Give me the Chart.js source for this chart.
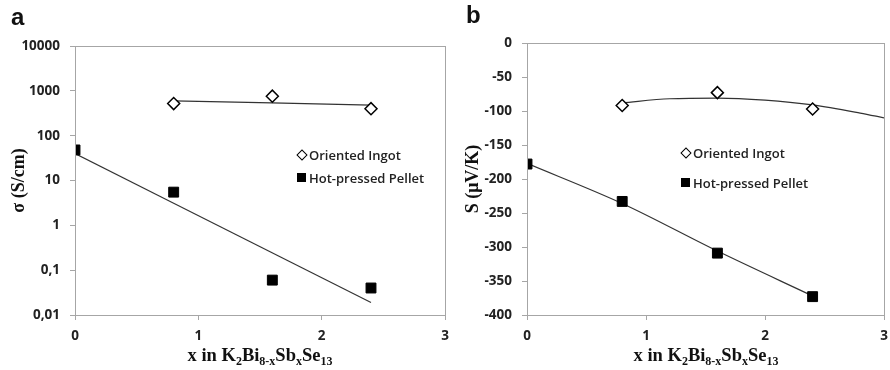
<!DOCTYPE html>
<html>
<head>
<meta charset="utf-8">
<script src="https://cdn.jsdelivr.net/npm/chart.js@4.4.1/dist/chart.umd.min.js"></script>
<style>
  body { margin: 0; background: #fff; }
  #wrap { position: relative; width: 890px; height: 370px; overflow: hidden; }
  canvas { position: absolute; top: 0; }
  .panel { position: absolute; font: bold 24px "Liberation Sans", Arial, sans-serif; color: #111; }
  .xtitle { position: absolute; width: 300px; text-align: center; font: bold 18.5px "Liberation Serif", serif; color: #111; }
  .xtitle sub { font-size: 12px; vertical-align: -4px; line-height: 0; }
  .legend { position: absolute; font: 600 13px "Open Sans", sans-serif; color: #222; }
  .legend div { position: relative; height: 16px; line-height: 16px; white-space: nowrap; padding-left: 12px; }
  .sym-d { position: absolute; left: 1px; top: 4px; width: 6px; height: 6px; border: 1.3px solid #000; background: #fff; transform: rotate(45deg); }
  .sym-s { position: absolute; left: 0; top: 3px; width: 9px; height: 9px; background: #000; }
</style>
</head>
<body>
<div id="wrap">
  <canvas id="chartA" width="450" height="370" style="left:0;width:450px;height:370px"></canvas>
  <canvas id="chartB" width="445" height="370" style="left:445px;width:445px;height:370px"></canvas>
  <div class="panel" style="left:11px;top:3px">a</div>
  <div class="panel" style="left:466px;top:1px">b</div>
  <div class="xtitle" style="left:110px;top:345px">x in K<sub>2</sub>Bi<sub>8-x</sub>Sb<sub>x</sub>Se<sub>13</sub></div>
  <div class="xtitle" style="left:556px;top:345px">x in K<sub>2</sub>Bi<sub>8-x</sub>Sb<sub>x</sub>Se<sub>13</sub></div>
  <div class="legend" style="left:297px;top:147px">
    <div><span class="sym-d"></span>Oriented Ingot</div>
    <div style="margin-top:7px"><span class="sym-s"></span>Hot-pressed Pellet</div>
  </div>
  <div class="legend" style="left:681px;top:145px">
    <div><span class="sym-d"></span>Oriented Ingot</div>
    <div style="margin-top:14px"><span class="sym-s"></span>Hot-pressed Pellet</div>
  </div>
</div>
<script>
// x axis
const xTicks = [0, 1, 2, 3];

// panel a: conductivity (log scale)
const sigmaTicks = [0.01, 0.1, 1, 10, 100, 1000, 10000];
const sigmaTickLabels = ['0,01', '0,1', '1', '10', '100', '1000', '10000'];
const ingotX = [0.8, 1.6, 2.4];
const ingotSigma = [520, 760, 400];
const pelletX = [0, 0.8, 1.6, 2.4];
const pelletSigma = [48, 5.5, 0.06, 0.04];
const ingotSigmaFitX = [0.8, 2.4];
const ingotSigmaFit = [600, 480];
const pelletSigmaFitX = [0, 2.4];
const pelletSigmaFit = [40, 0.019];

// panel b: Seebeck coefficient
const seebeckTicks = [0, -50, -100, -150, -200, -250, -300, -350, -400];
const ingotS = [-92, -73, -97];
const pelletS = [-178, -233, -309, -373];
const ingotSFitX = [0.8, 1.2, 1.6, 2.0, 2.4, 2.8, 3.0];
const ingotSFit = [-88, -82, -81, -84, -91, -103, -110];
const pelletSFitX = [0, 0.8, 1.6, 2.4];
const pelletSFit = [-177, -236, -306, -372];

const axisGray = '#a6a6a6';
const tickFont = { family: 'Open Sans', size: 13.5, weight: 'bold' };

function pts(xs, ys) {
    return xs.map((x, i) => ({ x: x, y: ys[i] }));
}

const frame = {
    id: 'frame',
    afterDatasetsDraw(chart) {
        const a = chart.chartArea;
        const ctx = chart.ctx;
        ctx.save();
        ctx.strokeStyle = axisGray;
        ctx.lineWidth = 1;
        ctx.strokeRect(Math.round(a.left) + 0.5, Math.round(a.top) + 0.5,
            Math.round(a.right - a.left), Math.round(a.bottom - a.top));
        ctx.restore();
    }
};

function makeDatasets(ix, iy, px, py, ifx, ify, pfx, pfy) {
    return [
        { label: 'Oriented Ingot', data: pts(ix, iy), pointStyle: 'rectRot', pointRadius: 6,
          backgroundColor: '#fff', borderColor: '#000', borderWidth: 1.5, order: 0 },
        { label: 'Hot-pressed Pellet', data: pts(px, py), pointStyle: 'rect', pointRadius: 7,
          backgroundColor: '#000', borderColor: '#000', borderWidth: 1, order: 0 },
        { label: 'fit1', data: pts(ifx, ify), showLine: true, pointRadius: 0, borderColor: '#333',
          borderWidth: 1.2, cubicInterpolationMode: 'monotone', order: 1 },
        { label: 'fit2', data: pts(pfx, pfy), showLine: true, pointRadius: 0, borderColor: '#333',
          borderWidth: 1.2, cubicInterpolationMode: 'monotone', order: 1 }
    ];
}

function xScale() {
    return {
        type: 'linear', min: 0, max: 3,
        afterBuildTicks: s => { s.ticks = xTicks.map(v => ({ value: v })); },
        afterFit: s => { s.height = 55; s.paddingLeft = 0; s.paddingRight = 0; },
        ticks: { font: tickFont, color: '#222', padding: 8, maxRotation: 0 },
        grid: { drawOnChartArea: false, color: axisGray, tickLength: 5 },
        border: { color: axisGray }
    };
}

new Chart(document.getElementById('chartA'), {
    type: 'scatter',
    data: { datasets: makeDatasets(ingotX, ingotSigma, pelletX, pelletSigma,
        ingotSigmaFitX, ingotSigmaFit, pelletSigmaFitX, pelletSigmaFit) },
    options: {
        responsive: false, animation: false,
        layout: { autoPadding: false, padding: { left: 0, right: 5, top: 46, bottom: 0 } },
        plugins: { legend: { display: false }, tooltip: { enabled: false } },
        scales: {
            x: xScale(),
            y: {
                type: 'logarithmic', min: 0.01, max: 10000,
                afterBuildTicks: s => { s.ticks = sigmaTicks.map(v => ({ value: v })); },
                afterFit: s => { s.width = 75; },
                ticks: { font: tickFont, color: '#222', padding: 10,
                    callback: v => sigmaTickLabels[sigmaTicks.indexOf(v)] },
                grid: { drawOnChartArea: false, color: axisGray, tickLength: 5 },
                border: { color: axisGray },
                title: { display: true, text: 'σ (S/cm)', color: '#111', padding: { top: 9 },
                    font: { family: 'Liberation Serif', size: 18, weight: 'bold' } }
            }
        }
    },
    plugins: [frame]
});

new Chart(document.getElementById('chartB'), {
    type: 'scatter',
    data: { datasets: makeDatasets(ingotX, ingotS, pelletX, pelletS,
        ingotSFitX, ingotSFit, pelletSFitX, pelletSFit) },
    options: {
        responsive: false, animation: false,
        layout: { autoPadding: false, padding: { left: 0, right: 6, top: 43, bottom: 0 } },
        plugins: { legend: { display: false }, tooltip: { enabled: false } },
        scales: {
            x: xScale(),
            y: {
                type: 'linear', min: -400, max: 0,
                afterBuildTicks: s => { s.ticks = seebeckTicks.map(v => ({ value: v })); },
                afterFit: s => { s.width = 82; },
                ticks: { font: tickFont, color: '#222', padding: 10 },
                grid: { drawOnChartArea: false, color: axisGray, tickLength: 5 },
                border: { color: axisGray },
                title: { display: true, text: 'S (μV/K)', color: '#111', padding: { top: 18 },
                    font: { family: 'Liberation Serif', size: 18, weight: 'bold' } }
            }
        }
    },
    plugins: [frame]
});
</script>
</body>
</html>
